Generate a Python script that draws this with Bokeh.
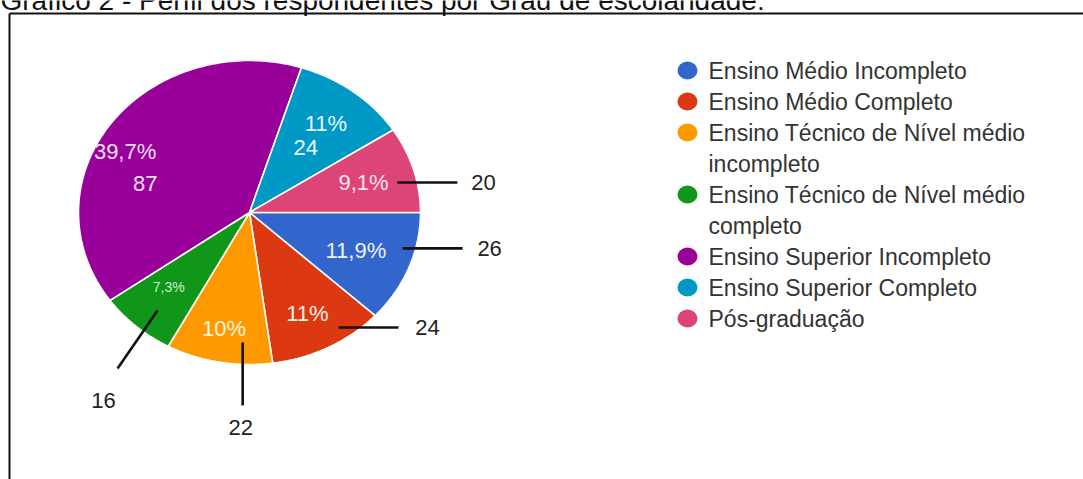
import numpy as np
from bokeh.plotting import figure
from bokeh.models import Range1d
from bokeh.core.properties import value
from bokeh.embed import file_html
from bokeh.resources import INLINE

# ---------------- data ----------------
title = "Gráfico 2 - Perfil dos respondentes por Grau de escolaridade:"
categories = [
    "Ensino Médio Incompleto",
    "Ensino Médio Completo",
    "Ensino Técnico de Nível médio\nincompleto",
    "Ensino Técnico de Nível médio\ncompleto",
    "Ensino Superior Incompleto",
    "Ensino Superior Completo",
    "Pós-graduação",
]
counts = [26, 24, 22, 16, 87, 24, 20]
pct_labels = ["11,9%", "11%", "10%", "7,3%", "39,7%", "11%", "9,1%"]
count_labels = ["26", "24", "22", "16", "87", "24", "20"]
colors = ["#3366CC", "#DC3912", "#FF9900", "#109618", "#990099", "#0099C6", "#DD4477"]

# ---------------- style / layout ----------------
W, H = 1083, 479
CX, CY, RX, RY = 249, 212, 171, 152
FONT = value("Liberation Sans")

pct_rfrac = [0.67, 0.745, 0.78, 0.68, 0.83, 0.735, 0.695]
pct_dang = [0.5, 0.5, 0.7, 2.5, -7.4, 0.0, 0.0]
pct_size = ["22px", "22px", "22px", "14px", "22px", "22px", "22px"]
pct_color = ["#eef2ff", "#fff0ea", "#fff6e0", "#c8f0c8", "#f6e0f6", "#e6faff", "#fbe6ee"]

placement = ["out", "out", "out", "out", "in", "in", "out"]
in_rfrac = {4: 0.64, 5: 0.54}
in_dang = {4: -18.6, 5: 0.2}
lead_dang = {6: 3.6, 0: -6.6, 1: -7.0, 2: -7.6, 3: -1.7}
lead_rfrac = {6: 0.887, 0: 0.926, 1: 0.918, 2: 0.856, 3: 0.84}
lead_vec = {6: (60, 0), 0: (60, 0), 1: (60, 0), 2: (0, 63), 3: (-40, 58)}
lab_vec = {6: (26, 0), 0: (27, 0), 1: (29, 0), 2: (-2, 22), 3: (-14, 32)}

p = figure(width=W, height=H, x_range=Range1d(0, W), y_range=Range1d(H, 0),
           min_border=0, toolbar_location=None, output_backend="svg")
p.axis.visible = False
p.grid.visible = False
p.outline_line_color = None
p.background_fill_color = "white"

# ---------------- pie (elliptical, as in the picture) ----------------
total = float(sum(counts))
edges = np.concatenate([[0.0], np.cumsum(counts)]) / total * 2 * np.pi
xs, ys = [], []
for a0, a1 in zip(edges[:-1], edges[1:]):
    t = np.linspace(a0, a1, 120)
    xs.append(np.concatenate([[CX], CX + RX * np.cos(t), [CX]]).tolist())
    ys.append(np.concatenate([[CY], CY + RY * np.sin(t), [CY]]).tolist())
p.patches(xs=xs, ys=ys, fill_color=colors, line_color="white", line_width=1.6)

mid = (edges[:-1] + edges[1:]) / 2


def pt(i, dang, rf):
    a = mid[i] + np.deg2rad(dang)
    return CX + rf * RX * np.cos(a), CY + rf * RY * np.sin(a)


# percentage labels
px, py = zip(*[pt(i, pct_dang[i], pct_rfrac[i]) for i in range(len(counts))])
p.text(x=list(px), y=list(py), text=pct_labels, text_font=FONT,
       text_font_size=pct_size, text_color=pct_color,
       text_align="center", text_baseline="middle")

# counts inside
ins = [i for i in range(len(counts)) if placement[i] == "in"]
ix, iy = zip(*[pt(i, in_dang[i], in_rfrac[i]) for i in ins])
p.text(x=list(ix), y=list(iy), text=[count_labels[i] for i in ins], text_font=FONT,
       text_font_size="22px", text_color=[pct_color[i] for i in ins],
       text_align="center", text_baseline="middle")

# counts outside with leader lines
outs = [i for i in range(len(counts)) if placement[i] == "out"]
x0, y0, x1, y1, lx, ly = [], [], [], [], [], []
for i in outs:
    sx, sy = pt(i, lead_dang[i], lead_rfrac[i])
    ex, ey = sx + lead_vec[i][0], sy + lead_vec[i][1]
    x0.append(sx); y0.append(sy); x1.append(ex); y1.append(ey)
    lx.append(ex + lab_vec[i][0]); ly.append(ey + lab_vec[i][1])
p.segment(x0=x0, y0=y0, x1=x1, y1=y1, line_color="#111111", line_width=2.6)
p.text(x=lx, y=ly, text=[count_labels[i] for i in outs], text_font=FONT,
       text_font_size="22px", text_color="#222222",
       text_align="center", text_baseline="middle")

# ---------------- legend ----------------
LEG_X, LEG_TX, LEG_Y0, LEG_DY = 687, 708, 70, 31
cx_, cy_, tx_, ty_, tt_ = [], [], [], [], []
k = 0
for i, cat in enumerate(categories):
    lines = cat.split("\n")
    cx_.append(LEG_X); cy_.append(LEG_Y0 + k * LEG_DY)
    for ln in lines:
        tx_.append(LEG_TX); ty_.append(LEG_Y0 + k * LEG_DY); tt_.append(ln)
        k += 1
p.ellipse(x=cx_, y=cy_, width=20, height=18, fill_color=colors, line_color=None)
p.text(x=tx_, y=ty_, text=tt_, text_font=FONT, text_font_size="23px",
       text_color="#333333", text_align="left", text_baseline="middle")

# ---------------- title and frame ----------------
p.text(x=[0], y=[0], text=[title], text_font=FONT, text_font_size="28px",
       text_color="#111111", text_align="left", text_baseline="alphabetic")
p.segment(x0=[9, 9], y0=[13, 13], x1=[W, 9], y1=[13, H],
          line_color="#111111", line_width=2)

open("out.html", "w").write(file_html(p, INLINE))
